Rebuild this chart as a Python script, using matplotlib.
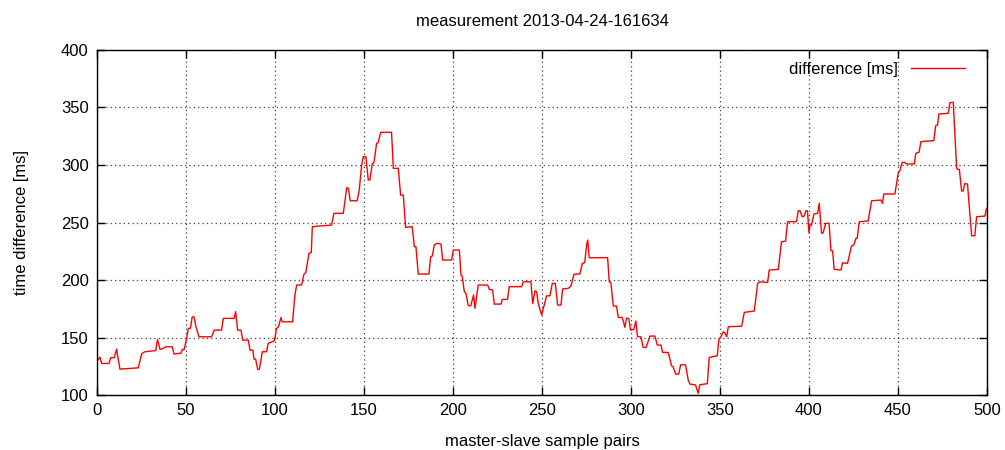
import matplotlib
matplotlib.use("Agg")
import matplotlib.pyplot as plt

# sample index / time difference [ms]
sample = [0, 1.7, 2.6, 6.7, 7.7, 9.7, 11, 12.9, 23.2, 25.1, 27, 33, 34, 35.4, 37.2, 38.6,
          42.3, 43.3, 47.2, 48, 49, 50.4, 51.3, 52.5, 53.5, 54.5, 55.6, 57.3, 64.4, 65.9,
          70, 71, 77.1, 77.9, 79, 80.9, 81.9, 85, 86, 87.6, 88.2, 89.1, 90.3, 91.2, 92.9,
          95.3, 96.2, 98.5, 99.7, 100.9, 102, 103.4, 104.1, 109.9, 111.2, 112.2, 115,
          116.3, 117.3, 119.1, 120.4, 121, 131.8, 133.1, 138.4, 140.3, 141.2, 142.3, 146.2,
          147.4, 148.7, 149.6, 151.1, 152.4, 153.3, 154.7, 155.6, 157.1, 158, 159.4, 165.5,
          166.5, 169.3, 170.6, 172.1, 173.4, 177.1, 178.3, 179.2, 180.5, 186.5, 187.5,
          188.4, 189.5, 191, 193.3, 194.2, 199.2, 200.2, 203.6, 204.5, 205.2, 206.4, 207.3,
          208.6, 210, 211.6, 212.4, 214.2, 219.5, 220.4, 222.3, 223.2, 227, 227.7, 230.7,
          231.6, 238.6, 239.5, 243.8, 244.8, 246.1, 247, 247.9, 249.8, 251.3, 252.6, 254.5,
          255.8, 257.5, 258.8, 260.7, 261.6, 264.8, 266.3, 268, 271.3, 272.7, 274, 275.1,
          275.7, 276.6, 286.9, 287.8, 288.7, 290.1, 291.9, 292.9, 295.1, 296.6, 297.5, 298.8,
          299.8, 301.6, 302.8, 303.7, 305.6, 306.9, 308.5, 310.7, 313.5, 314.8, 316.9, 317.8,
          321, 322.8, 323.7, 325.1, 326.9, 327.9, 330.7, 332.2, 333.1, 336.3, 337.8, 338.7,
          342.9, 344, 348.5, 349.4, 350.5, 351.9, 352.8, 353.8, 354.7, 362.2, 363.7, 369.3,
          371.2, 372.5, 376.8, 377.7, 382.8, 384.6, 386.9, 388, 393, 394, 395, 396.2, 397.3,
          398.3, 399.2, 400, 400.6, 401.5, 402.8, 404.9, 405.8, 407.1, 408, 409.4, 411.3,
          412.4, 413.3, 414.2, 418, 418.9, 421.7, 423.9, 425.2, 426.4, 427.1, 428.3, 433.3,
          435.2, 440.4, 441.3, 442.1, 448.3, 450.2, 451.1, 452.4, 453.8, 454.9, 459.2, 460.1,
          461.9, 462.9, 470.2, 471.2, 472.3, 473, 478.3, 479.2, 481.1, 483, 483.6, 484.5,
          485.8, 486.7, 487.6, 489.1, 491.4, 493.2, 494.2, 498.9, 499.8]
diff_ms = [129.8, 133, 127.5, 127.5, 132.5, 132.5, 140, 122.6, 123.7, 136, 137.7, 138.7,
           148.4, 139.7, 140.6, 142, 142, 135.7, 136.4, 139.7, 139.7, 149.3, 158, 158, 168,
           168, 159.4, 150.7, 150.7, 156.5, 156.5, 166.7, 166.7, 172.5, 156.5, 156.5, 147.8,
           147.8, 139, 139, 131.3, 131.3, 122.3, 122.3, 137.7, 137.7, 145, 146.4, 147.2, 158,
           159.4, 167.5, 163.7, 163.7, 187, 195.7, 195.7, 205.2, 206.4, 223.2, 223.8, 246.4,
           247.8, 258, 258, 280.3, 279.8, 268.9, 268.9, 278.8, 300, 307.2, 307.2, 287, 287,
           301.4, 302, 318.8, 319.4, 328.4, 328.4, 297.1, 297.1, 273.9, 273.9, 245.8, 246.4,
           229, 229, 205.2, 205.2, 220.3, 220.9, 230.4, 231.9, 231.3, 217.4, 217.4, 226.1,
           226.1, 204.3, 203.4, 189.8, 188.4, 177.7, 177.7, 187, 175.4, 195.7, 195.7, 191.9,
           191.3, 179.1, 179.1, 183.2, 183.2, 194.2, 194.2, 198.5, 198.5, 179.7, 190.7, 189.8,
           179.7, 169.6, 178.3, 186.3, 186.3, 197.1, 197.1, 178.3, 178.3, 192.2, 192.8, 194.8,
           205, 205.3, 214.5, 215.1, 230.4, 234.8, 219.4, 219.4, 198.5, 197.9, 177.4, 177.4,
           167.5, 167.5, 158.9, 167, 166.4, 156.5, 157.1, 164.3, 150.7, 150.7, 141.4, 141.4,
           151.3, 151.3, 143.5, 143.5, 137.1, 137.1, 125.5, 124.6, 118.3, 118.3, 126.3, 126.3,
           113, 109.6, 108.8, 101.5, 109, 109.9, 132.8, 134.2, 148.4, 150.7, 155, 154.2, 150.7,
           159.4, 159.9, 171.9, 173.1, 197.1, 198.5, 197.9, 208.7, 209.3, 233.3, 233.9, 250.7,
           250.7, 260.2, 260.2, 255, 255.6, 260.2, 260.2, 241.1, 247.8, 247.8, 257.4, 258,
           266.7, 240.5, 241.1, 249.3, 249.3, 225.5, 225.5, 209.3, 208.7, 215, 214.5, 229.6,
           230.4, 236.2, 236.2, 250.7, 251.3, 268.9, 269.5, 266.7, 274.8, 274.8, 293.3, 295,
           302.3, 302.3, 300.9, 300.9, 310.2, 311.1, 320.3, 321.2, 334.2, 334.8, 344.3, 344.9,
           354.2, 354.5, 297.1, 296.2, 296.2, 277.4, 277.4, 284, 283.4, 238.5, 238.5, 255,
           255.6, 262.3]

x_ticks = [0, 50, 100, 150, 200, 250, 300, 350, 400, 450, 500]
y_ticks = [100, 150, 200, 250, 300, 350, 400]

plt.rcParams['font.family'] = ['Liberation Sans', 'DejaVu Sans']
plt.rcParams['font.size'] = 12

fig = plt.figure(figsize=(10.05, 4.5), dpi=100)
ax = fig.add_axes([0.0965, 0.122, 0.8855, 0.767])

ax.plot(sample, diff_ms, color='#ff0000', lw=1.0, label='difference [ms]')

ax.set_xlim(0, 500)
ax.set_ylim(100, 400)
ax.set_xticks(x_ticks)
ax.set_yticks(y_ticks)
ax.tick_params(direction='in', length=6, width=1, top=True, right=True, pad=6)
ax.grid(True, color='0.25', linestyle=(0, (1, 2.5)), lw=0.9)
for s in ax.spines.values():
    s.set_linewidth(1.0)

ax.set_title('measurement 2013-04-24-161634', fontsize=12, pad=17)
ax.set_xlabel('master-slave sample pairs', labelpad=11)
ax.set_ylabel('time difference [ms]', labelpad=23)

ax.legend(loc='upper right', frameon=False, markerfirst=False, handlelength=3.2,
          handletextpad=0.8, borderaxespad=0.5, fontsize=12,
          bbox_to_anchor=(0.992, 1.009))

fig.savefig('out.png', dpi=100)
